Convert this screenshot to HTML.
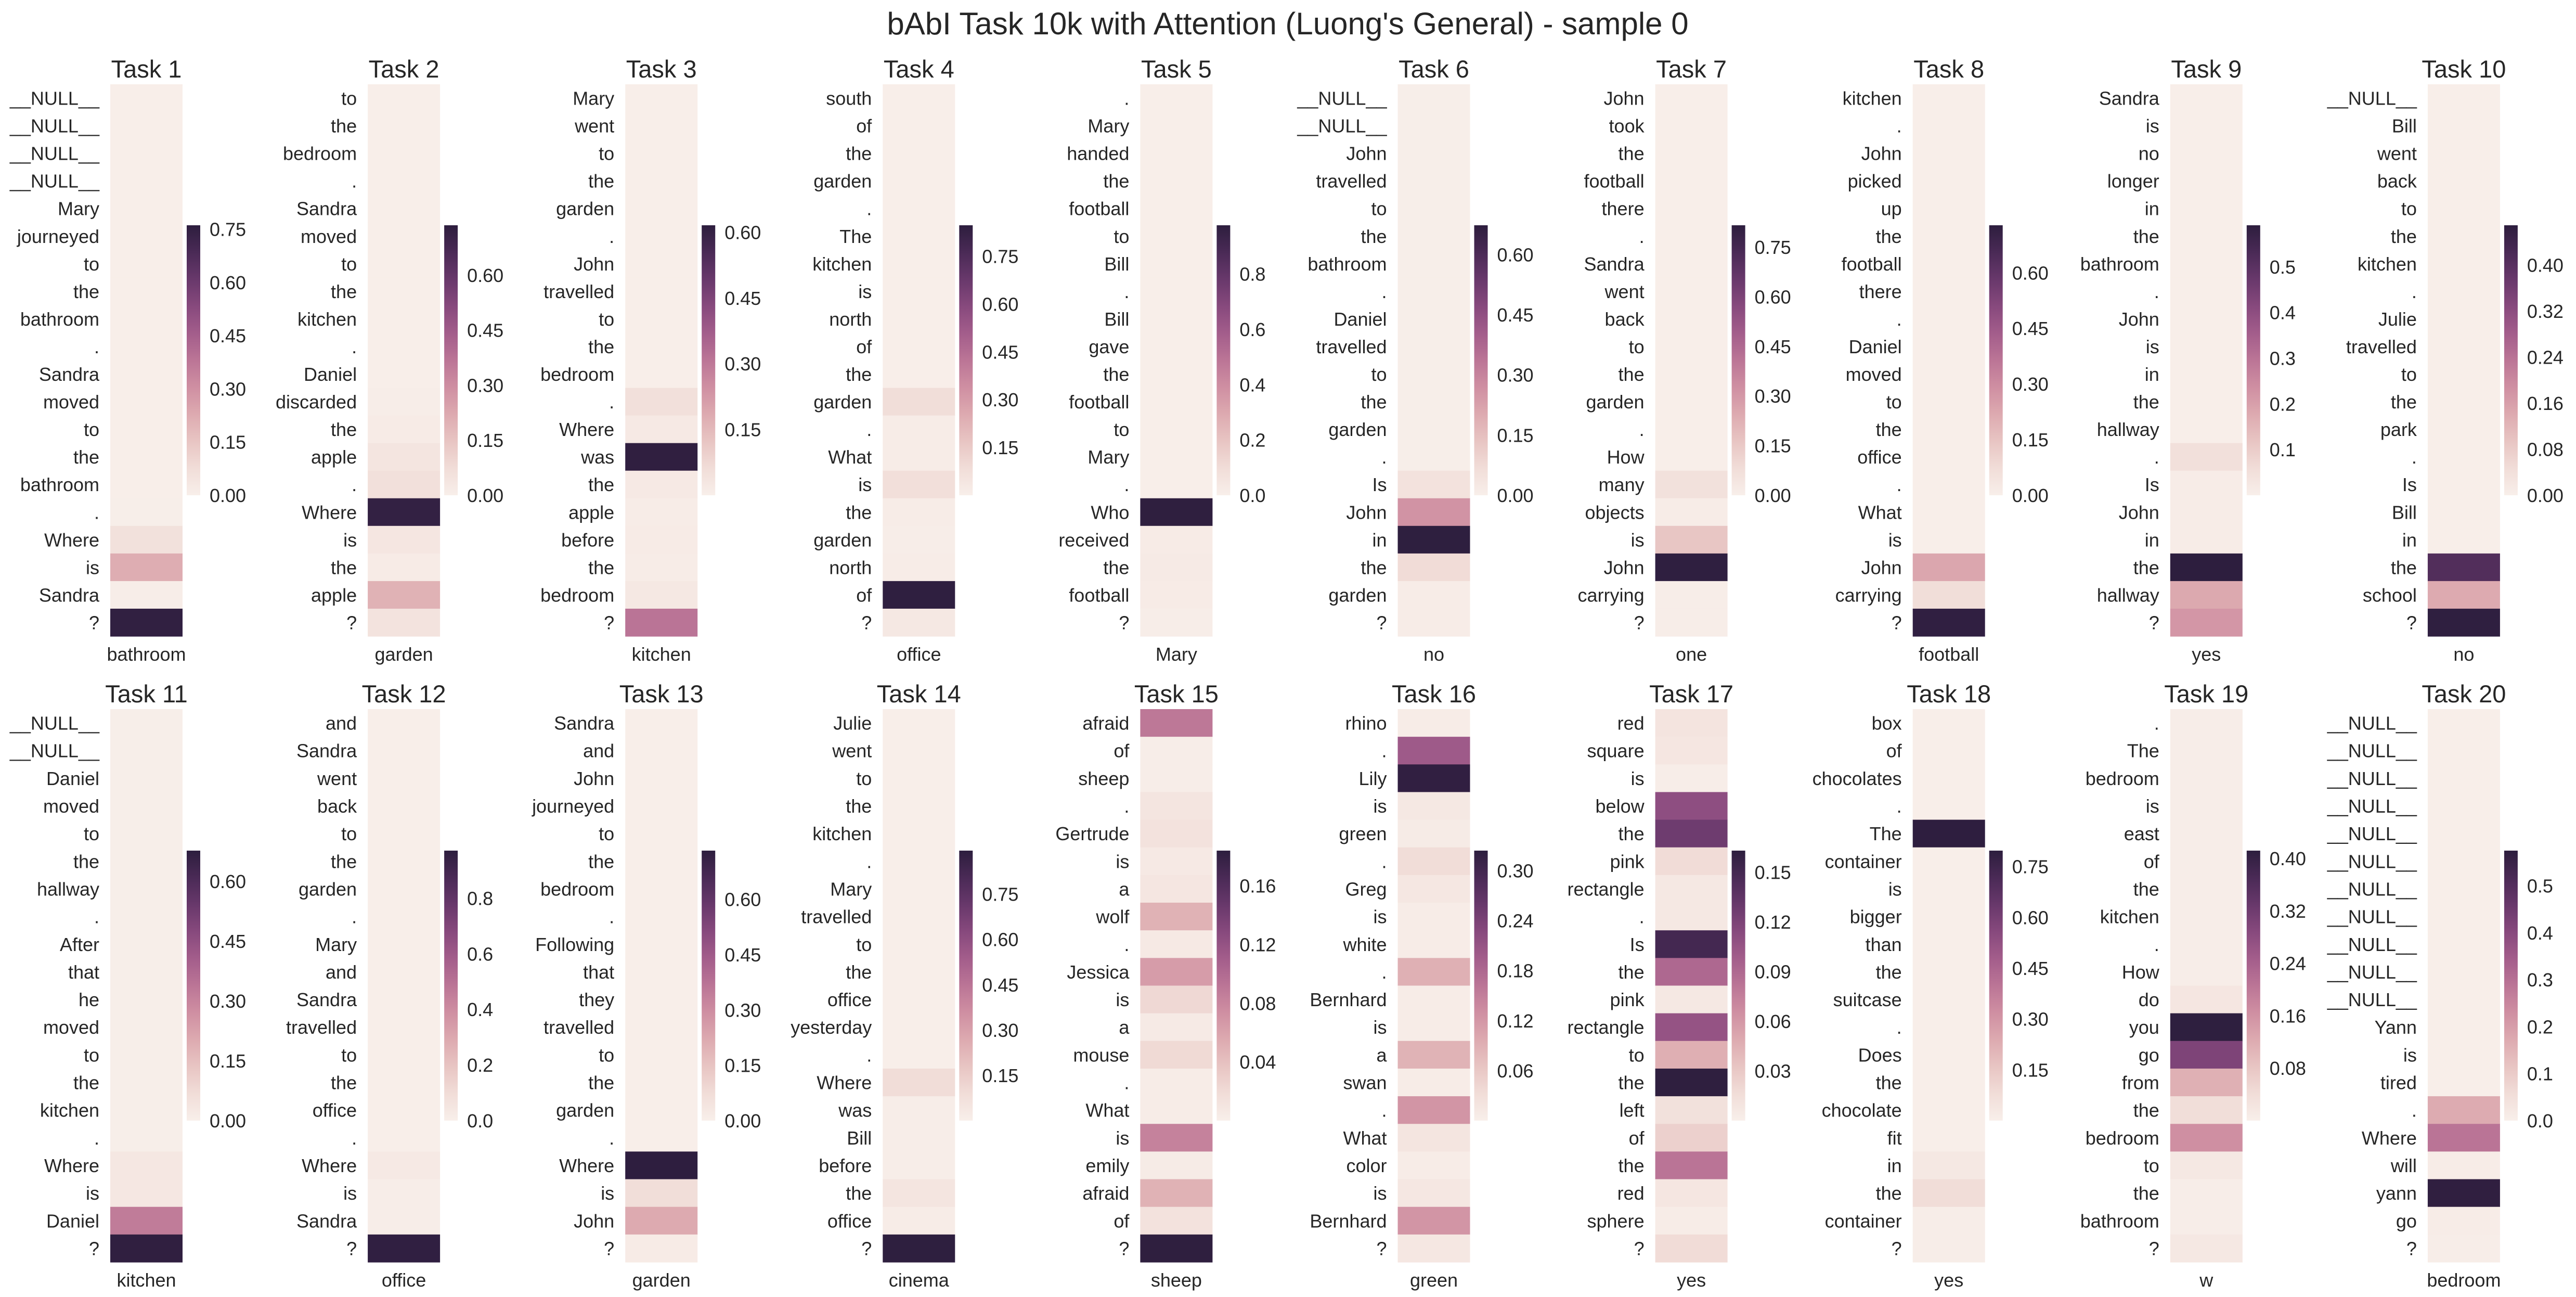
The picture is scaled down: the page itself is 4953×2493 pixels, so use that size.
<!DOCTYPE html>
<html><head><meta charset="utf-8"><style>
html,body{margin:0;padding:0;background:#fff;}
svg{display:block;}
text{font-family:"Liberation Sans",Arial,sans-serif;fill:#262626;}
</style></head><body>
<svg id="chart" xmlns="http://www.w3.org/2000/svg" width="4953" height="2493" viewBox="0 0 4953 2493">
<defs>
<linearGradient id="cmap" x1="0" y1="1" x2="0" y2="0">
<stop offset="0" stop-color="#f8efea"/><stop offset="0.1" stop-color="#f1ddd8"/><stop offset="0.2" stop-color="#e8c5c3"/><stop offset="0.3" stop-color="#ddaab0"/><stop offset="0.4" stop-color="#cf8fa2"/><stop offset="0.5" stop-color="#bb7596"/><stop offset="0.6" stop-color="#a35d8b"/><stop offset="0.7" stop-color="#87497d"/><stop offset="0.8" stop-color="#68386b"/><stop offset="0.9" stop-color="#4a2a56"/><stop offset="1" stop-color="#2d1e3e"/>
</linearGradient>
</defs>
<text x="2476" y="66" font-size="60" text-anchor="middle">bAbI Task 10k with Attention (Luong's General) - sample 0</text>
</svg>
<script>
const taskNames = ["Task 1","Task 2","Task 3","Task 4","Task 5","Task 6","Task 7","Task 8","Task 9","Task 10","Task 11","Task 12","Task 13","Task 14","Task 15","Task 16","Task 17","Task 18","Task 19","Task 20"];
const answers = ["bathroom","garden","kitchen","office","Mary","no","one","football","yes","no","kitchen","office","garden","cinema","sheep","green","yes","yes","w","bedroom"];
const N = "__NULL__";
const tokens = [
[N,N,N,N,"Mary","journeyed","to","the","bathroom",".","Sandra","moved","to","the","bathroom",".","Where","is","Sandra","?"],
["to","the","bedroom",".","Sandra","moved","to","the","kitchen",".","Daniel","discarded","the","apple",".","Where","is","the","apple","?"],
["Mary","went","to","the","garden",".","John","travelled","to","the","bedroom",".","Where","was","the","apple","before","the","bedroom","?"],
["south","of","the","garden",".","The","kitchen","is","north","of","the","garden",".","What","is","the","garden","north","of","?"],
[".","Mary","handed","the","football","to","Bill",".","Bill","gave","the","football","to","Mary",".","Who","received","the","football","?"],
[N,N,"John","travelled","to","the","bathroom",".","Daniel","travelled","to","the","garden",".","Is","John","in","the","garden","?"],
["John","took","the","football","there",".","Sandra","went","back","to","the","garden",".","How","many","objects","is","John","carrying","?"],
["kitchen",".","John","picked","up","the","football","there",".","Daniel","moved","to","the","office",".","What","is","John","carrying","?"],
["Sandra","is","no","longer","in","the","bathroom",".","John","is","in","the","hallway",".","Is","John","in","the","hallway","?"],
[N,"Bill","went","back","to","the","kitchen",".","Julie","travelled","to","the","park",".","Is","Bill","in","the","school","?"],
[N,N,"Daniel","moved","to","the","hallway",".","After","that","he","moved","to","the","kitchen",".","Where","is","Daniel","?"],
["and","Sandra","went","back","to","the","garden",".","Mary","and","Sandra","travelled","to","the","office",".","Where","is","Sandra","?"],
["Sandra","and","John","journeyed","to","the","bedroom",".","Following","that","they","travelled","to","the","garden",".","Where","is","John","?"],
["Julie","went","to","the","kitchen",".","Mary","travelled","to","the","office","yesterday",".","Where","was","Bill","before","the","office","?"],
["afraid","of","sheep",".","Gertrude","is","a","wolf",".","Jessica","is","a","mouse",".","What","is","emily","afraid","of","?"],
["rhino",".","Lily","is","green",".","Greg","is","white",".","Bernhard","is","a","swan",".","What","color","is","Bernhard","?"],
["red","square","is","below","the","pink","rectangle",".","Is","the","pink","rectangle","to","the","left","of","the","red","sphere","?"],
["box","of","chocolates",".","The","container","is","bigger","than","the","suitcase",".","Does","the","chocolate","fit","in","the","container","?"],
[".","The","bedroom","is","east","of","the","kitchen",".","How","do","you","go","from","the","bedroom","to","the","bathroom","?"],
[N,N,N,N,N,N,N,N,N,N,N,"Yann","is","tired",".","Where","will","yann","go","?"]
];
const values = [
[.005,.005,.005,.005,.005,.005,.005,.005,.005,.005,.005,.005,.005,.005,.005,.006,.06,.22,.01,.75],
[.005,.005,.005,.005,.005,.005,.005,.005,.005,.005,.005,.01,.015,.04,.06,.72,.035,.015,.2,.05],
[.004,.004,.004,.004,.004,.004,.004,.004,.004,.004,.004,.05,.02,.61,.02,.01,.012,.01,.025,.31],
[.005,.005,.005,.005,.005,.005,.005,.005,.005,.005,.005,.08,.015,.015,.075,.012,.01,.012,.84,.035],
[.005,.005,.005,.005,.005,.005,.005,.005,.005,.005,.005,.005,.005,.005,.005,.97,.02,.025,.02,.01],
[.005,.005,.005,.005,.005,.005,.005,.005,.005,.005,.005,.005,.005,.005,.05,.26,.67,.07,.01,.01],
[.005,.005,.005,.005,.005,.005,.005,.005,.005,.005,.005,.005,.005,.005,.065,.015,.16,.81,.01,.01],
[.005,.005,.005,.005,.005,.005,.005,.005,.005,.005,.005,.005,.005,.005,.005,.005,.005,.23,.07,.72],
[.004,.004,.004,.004,.004,.004,.004,.004,.004,.004,.004,.004,.004,.05,.01,.01,.01,.59,.18,.22],
[.003,.003,.003,.003,.003,.003,.003,.003,.003,.003,.003,.003,.003,.003,.003,.003,.003,.41,.14,.465],
[.005,.005,.005,.005,.005,.005,.005,.005,.005,.005,.005,.005,.005,.005,.005,.005,.03,.03,.32,.67],
[.005,.005,.005,.005,.005,.005,.005,.005,.005,.005,.005,.005,.005,.005,.005,.005,.03,.01,.01,.96],
[.005,.005,.005,.005,.005,.005,.005,.005,.005,.005,.005,.005,.005,.005,.005,.005,.73,.07,.22,.015],
[.005,.005,.005,.005,.005,.005,.005,.005,.005,.005,.005,.005,.005,.09,.01,.01,.01,.05,.015,.89],
[.09,.002,.002,.01,.013,.006,.009,.05,.006,.065,.022,.005,.021,.003,.003,.083,.004,.05,.013,.183],
[.005,.2,.32,.013,.008,.032,.015,.006,.005,.09,.005,.006,.087,.006,.122,.018,.006,.015,.122,.015],
[.01,.008,.002,.11,.127,.017,.006,.006,.15,.09,.006,.106,.046,.162,.013,.025,.082,.008,.003,.017],
[.005,.005,.005,.005,.795,.005,.005,.005,.005,.005,.005,.005,.005,.005,.005,.005,.03,.08,.01,.008],
[.005,.005,.005,.005,.005,.005,.005,.005,.005,.005,.02,.41,.3,.115,.04,.165,.015,.005,.005,.015],
[.004,.004,.004,.004,.004,.004,.004,.004,.004,.004,.004,.004,.004,.004,.17,.29,.01,.57,.008,.005]
];
const vmaxes = [.761,.736,.616,.847,.976,.673,.816,.728,.591,.469,.677,.971,.732,.894,.184,.324,.163,.797,.412,.575];
const tickLabels = [
["0.00","0.15","0.30","0.45","0.60","0.75"],
["0.00","0.15","0.30","0.45","0.60"],
["0.15","0.30","0.45","0.60"],
["0.15","0.30","0.45","0.60","0.75"],
["0.0","0.2","0.4","0.6","0.8"],
["0.00","0.15","0.30","0.45","0.60"],
["0.00","0.15","0.30","0.45","0.60","0.75"],
["0.00","0.15","0.30","0.45","0.60"],
["0.1","0.2","0.3","0.4","0.5"],
["0.00","0.08","0.16","0.24","0.32","0.40"],
["0.00","0.15","0.30","0.45","0.60"],
["0.0","0.2","0.4","0.6","0.8"],
["0.00","0.15","0.30","0.45","0.60"],
["0.15","0.30","0.45","0.60","0.75"],
["0.04","0.08","0.12","0.16"],
["0.06","0.12","0.18","0.24","0.30"],
["0.03","0.06","0.09","0.12","0.15"],
["0.15","0.30","0.45","0.60","0.75"],
["0.08","0.16","0.24","0.32","0.40"],
["0.0","0.1","0.2","0.3","0.4","0.5"]
];

const stops = ["#f8efea","#f1ddd8","#e8c5c3","#ddaab0","#cf8fa2","#bb7596","#a35d8b","#87497d","#68386b","#4a2a56","#2d1e3e"];
function hex(c){return [parseInt(c.slice(1,3),16),parseInt(c.slice(3,5),16),parseInt(c.slice(5,7),16)];}
function cmap(t){
  t=Math.max(0,Math.min(1,t));
  const p=t*(stops.length-1), i=Math.min(Math.floor(p),stops.length-2), f=p-i;
  const a=hex(stops[i]), b=hex(stops[i+1]);
  return "rgb("+a.map((v,k)=>Math.round(v+(b[k]-v)*f)).join(",")+")";
}
const svg=document.getElementById('chart');
const NS="http://www.w3.org/2000/svg";
function mk(tag,attrs,parent){const e=document.createElementNS(NS,tag);for(const k in attrs)e.setAttribute(k,attrs[k]);(parent||svg).appendChild(e);return e;}

const HM_W=139, COL_STEP=495.1, LEFT0=212;
const rowTops=[162,1363], rowBots=[1223,2426];
const cbTops=[433,1635], cbBots=[952,2154];

for(let p=0;p<20;p++){
  const r=Math.floor(p/10), c=p%10;
  const left=LEFT0+COL_STEP*c;
  const top=rowTops[r], bot=rowBots[r];
  const n=tokens[p].length;
  const rh=(bot-top)/n;
  const vmax=vmaxes[p];
  const yScale=i=>top+i*rh;
  const g=mk('g',{});
  
  
  const title=mk('text',{x:left+HM_W/2,y:top-13,'font-size':47,'text-anchor':'middle'},g);
  title.textContent=taskNames[p];
  
  
  for(let i=0;i<n;i++){
    const cell=mk('rect',{x:left,y:yScale(i),width:HM_W,height:rh+0.6,fill:cmap(values[p][i]/vmax)},g);
    
    
    const lb=mk('text',{x:left-21,y:yScale(i)+rh/2+13,'font-size':36,'text-anchor':'end'},g);
    lb.textContent=tokens[p][i];
    
    
  }
  const xl=mk('text',{x:left+HM_W/2,y:bot+47,'font-size':36,'text-anchor':'middle'},g);
  xl.textContent=answers[p];
  
  
  const ct=cbTops[r], cb=cbBots[r];
  const bar=mk('rect',{x:left+147,y:ct,width:26,height:cb-ct,fill:'url(#cmap)'},g);
  
  
  tickLabels[p].forEach(tl=>{
    const v=parseFloat(tl);
    const y=cb-(v/vmax)*(cb-ct);
    const t=mk('text',{x:left+191,y:y+13,'font-size':36,'text-anchor':'start'},g);
    t.textContent=tl;
    
    
  });
}
</script>
</body></html>
